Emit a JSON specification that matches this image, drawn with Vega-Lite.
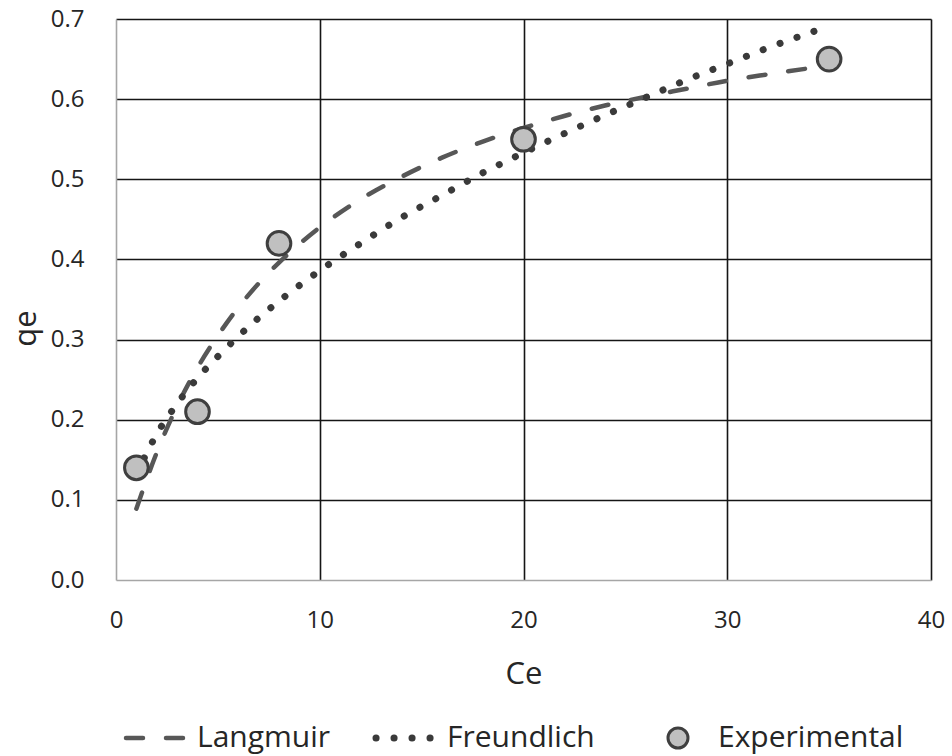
{
  "$schema": "https://vega.github.io/schema/vega-lite/v6.json",
  "width": 815,
  "height": 561,
  "autosize": {"type": "none"},
  "padding": {"left": 116, "top": 19, "right": 21, "bottom": 176},
  "background": "white",
  "config": {
    "font": "Open Sans",
    "view": {"stroke": null},
    "axis": {
      "grid": true,
      "gridWidth": 1.6,
      "ticks": false,
      "domainColor": "#a6a6a6",
      "domainWidth": 1.6,
      "labelFontSize": 24,
      "labelColor": "#262626",
      "labelFlush": false,
      "labelOverlap": false,
      "labelBound": false,
      "titleFontSize": 31,
      "titleFontWeight": "normal",
      "titleColor": "#262626"
    },
    "legend": {
      "labelFontSize": 30,
      "labelColor": "#262626",
      "labelLimit": 0,
      "title": null
    }
  },
  "datasets": {
    "curves": [
      {"model": "Langmuir", "Ce": 1, "qe": 0.089},
      {"model": "Langmuir", "Ce": 2, "qe": 0.159},
      {"model": "Langmuir", "Ce": 3, "qe": 0.217},
      {"model": "Langmuir", "Ce": 4, "qe": 0.265},
      {"model": "Langmuir", "Ce": 5, "qe": 0.305},
      {"model": "Langmuir", "Ce": 6, "qe": 0.34},
      {"model": "Langmuir", "Ce": 7, "qe": 0.37},
      {"model": "Langmuir", "Ce": 8, "qe": 0.396},
      {"model": "Langmuir", "Ce": 10, "qe": 0.44},
      {"model": "Langmuir", "Ce": 12, "qe": 0.475},
      {"model": "Langmuir", "Ce": 14, "qe": 0.503},
      {"model": "Langmuir", "Ce": 16, "qe": 0.527},
      {"model": "Langmuir", "Ce": 18, "qe": 0.547},
      {"model": "Langmuir", "Ce": 20, "qe": 0.564},
      {"model": "Langmuir", "Ce": 22, "qe": 0.579},
      {"model": "Langmuir", "Ce": 24, "qe": 0.592},
      {"model": "Langmuir", "Ce": 26, "qe": 0.603},
      {"model": "Langmuir", "Ce": 28, "qe": 0.613},
      {"model": "Langmuir", "Ce": 30, "qe": 0.623},
      {"model": "Langmuir", "Ce": 32, "qe": 0.631},
      {"model": "Langmuir", "Ce": 35, "qe": 0.642},
      {"model": "Freundlich", "Ce": 1, "qe": 0.132},
      {"model": "Freundlich", "Ce": 2, "qe": 0.182},
      {"model": "Freundlich", "Ce": 3, "qe": 0.22},
      {"model": "Freundlich", "Ce": 4, "qe": 0.252},
      {"model": "Freundlich", "Ce": 5, "qe": 0.279},
      {"model": "Freundlich", "Ce": 6, "qe": 0.304},
      {"model": "Freundlich", "Ce": 7, "qe": 0.327},
      {"model": "Freundlich", "Ce": 8, "qe": 0.348},
      {"model": "Freundlich", "Ce": 10, "qe": 0.386},
      {"model": "Freundlich", "Ce": 12, "qe": 0.42},
      {"model": "Freundlich", "Ce": 14, "qe": 0.452},
      {"model": "Freundlich", "Ce": 16, "qe": 0.48},
      {"model": "Freundlich", "Ce": 18, "qe": 0.508},
      {"model": "Freundlich", "Ce": 20, "qe": 0.533},
      {"model": "Freundlich", "Ce": 22, "qe": 0.557},
      {"model": "Freundlich", "Ce": 24, "qe": 0.58},
      {"model": "Freundlich", "Ce": 26, "qe": 0.602},
      {"model": "Freundlich", "Ce": 28, "qe": 0.624},
      {"model": "Freundlich", "Ce": 30, "qe": 0.644},
      {"model": "Freundlich", "Ce": 32, "qe": 0.664},
      {"model": "Freundlich", "Ce": 34.3, "qe": 0.685}
    ],
    "points": [
      {"series": "Experimental", "Ce": 1, "qe": 0.14},
      {"series": "Experimental", "Ce": 4, "qe": 0.21},
      {"series": "Experimental", "Ce": 8, "qe": 0.42},
      {"series": "Experimental", "Ce": 20, "qe": 0.55},
      {"series": "Experimental", "Ce": 35, "qe": 0.65}
    ]
  },
  "encoding": {
    "x": {
      "field": "Ce",
      "type": "quantitative",
      "scale": {"domain": [0, 40], "nice": false},
      "axis": {
        "title": "Ce",
        "values": [0, 10, 20, 30, 40],
        "labelPadding": 28,
        "titlePadding": 27,
        "gridColor": {"condition": {"test": "datum.value === 0", "value": "transparent"}, "value": "#151515"}
      }
    },
    "y": {
      "field": "qe",
      "type": "quantitative",
      "scale": {"domain": [0, 0.7], "nice": false},
      "axis": {
        "title": "qe",
        "values": [0, 0.1, 0.2, 0.3, 0.4, 0.5, 0.6, 0.7],
        "format": ".1f",
        "labelPadding": 32,
        "titlePadding": 8,
        "titleY": 309,
        "gridColor": {"condition": {"test": "datum.value === 0", "value": "transparent"}, "value": "#151515"}
      }
    }
  },
  "layer": [
    {
      "data": {"name": "curves"},
      "mark": {"type": "line", "strokeCap": "round", "interpolate": "monotone"},
      "encoding": {
        "strokeDash": {
          "field": "model",
          "type": "nominal",
          "scale": {"domain": ["Langmuir", "Freundlich"], "range": [[17, 23], [0.1, 17.9]]},
          "legend": {
            "orient": "none",
            "direction": "horizontal",
            "legendX": 28,
            "legendY": 704,
            "symbolType": "M-3,0L3,0",
            "symbolSize": 484,
            "labelOffset": 23,
            "columnPadding": 31,
            "encode": {"symbols": {"update": {"strokeCap": {"value": "round"}}}}
          }
        },
        "color": {
          "field": "model",
          "type": "nominal",
          "scale": {"domain": ["Langmuir", "Freundlich"], "range": ["#575757", "#3a3a3a"]},
          "legend": {
            "orient": "none",
            "direction": "horizontal",
            "legendX": 28,
            "legendY": 704,
            "symbolType": "M-3,0L3,0",
            "symbolSize": 484,
            "labelOffset": 23,
            "columnPadding": 31,
            "encode": {"symbols": {"update": {"strokeCap": {"value": "round"}}}}
          }
        },
        "strokeWidth": {
          "field": "model",
          "type": "nominal",
          "scale": {"domain": ["Langmuir", "Freundlich"], "range": [4.5, 7]},
          "legend": {
            "orient": "none",
            "direction": "horizontal",
            "legendX": 28,
            "legendY": 704,
            "symbolType": "M-3,0L3,0",
            "symbolSize": 484,
            "labelOffset": 23,
            "columnPadding": 31,
            "encode": {"symbols": {"update": {"strokeCap": {"value": "round"}}}}
          }
        }
      }
    },
    {
      "data": {"name": "points"},
      "mark": {"type": "point", "shape": "circle", "filled": true, "size": 560, "stroke": "#3f3f3f", "strokeWidth": 3, "opacity": 1},
      "encoding": {
        "fill": {
          "field": "series",
          "type": "nominal",
          "scale": {"domain": ["Experimental"], "range": ["#c0c0c0"]},
          "legend": {
            "orient": "none",
            "legendX": 547,
            "legendY": 704,
            "symbolType": "circle",
            "symbolSize": 400,
            "symbolStrokeWidth": 3,
            "symbolStrokeColor": "#3f3f3f",
            "labelOffset": 25
          }
        }
      }
    }
  ]
}
